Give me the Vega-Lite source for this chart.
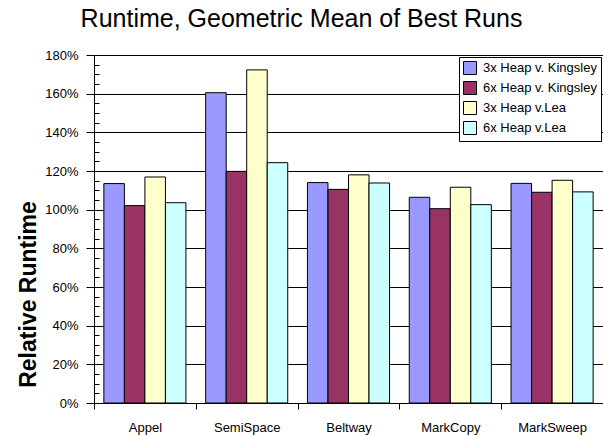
{
  "$schema": "https://vega.github.io/schema/vega-lite/v6.json",
  "autosize": {"type": "none"},
  "padding": {"left": 94, "top": 55, "right": 0, "bottom": 32},
  "width": 509,
  "height": 348,
  "background": "white",
  "config": {
    "font": "Liberation Sans",
    "view": {"stroke": null}
  },
  "title": {
    "text": "Runtime, Geometric Mean of Best Runs",
    "font": "Liberation Sans",
    "fontSize": 25,
    "fontWeight": "normal",
    "color": "black",
    "anchor": "middle",
    "dx": -47,
    "offset": 17
  },
  "data": {
    "values": [
      {"benchmark": "Appel", "series": "3x Heap v. Kingsley", "value": 113.5},
      {"benchmark": "Appel", "series": "6x Heap v. Kingsley", "value": 102.1},
      {"benchmark": "Appel", "series": "3x Heap v.Lea", "value": 116.9},
      {"benchmark": "Appel", "series": "6x Heap v.Lea", "value": 103.6},
      {"benchmark": "SemiSpace", "series": "3x Heap v. Kingsley", "value": 160.5},
      {"benchmark": "SemiSpace", "series": "6x Heap v. Kingsley", "value": 119.8},
      {"benchmark": "SemiSpace", "series": "3x Heap v.Lea", "value": 172.3},
      {"benchmark": "SemiSpace", "series": "6x Heap v.Lea", "value": 124.3},
      {"benchmark": "Beltway", "series": "3x Heap v. Kingsley", "value": 114.0},
      {"benchmark": "Beltway", "series": "6x Heap v. Kingsley", "value": 110.5},
      {"benchmark": "Beltway", "series": "3x Heap v.Lea", "value": 118.0},
      {"benchmark": "Beltway", "series": "6x Heap v.Lea", "value": 113.8},
      {"benchmark": "MarkCopy", "series": "3x Heap v. Kingsley", "value": 106.4},
      {"benchmark": "MarkCopy", "series": "6x Heap v. Kingsley", "value": 100.5},
      {"benchmark": "MarkCopy", "series": "3x Heap v.Lea", "value": 111.6},
      {"benchmark": "MarkCopy", "series": "6x Heap v.Lea", "value": 102.6},
      {"benchmark": "MarkSweep", "series": "3x Heap v. Kingsley", "value": 113.6},
      {"benchmark": "MarkSweep", "series": "6x Heap v. Kingsley", "value": 109.0},
      {"benchmark": "MarkSweep", "series": "3x Heap v.Lea", "value": 115.2},
      {"benchmark": "MarkSweep", "series": "6x Heap v.Lea", "value": 109.2}
    ]
  },
  "mark": {"type": "bar", "stroke": "black", "strokeWidth": 1},
  "encoding": {
    "x": {
      "field": "benchmark",
      "type": "nominal",
      "sort": ["Appel", "SemiSpace", "Beltway", "MarkCopy", "MarkSweep"],
      "scale": {"paddingInner": 0, "paddingOuter": 0},
      "axis": {
        "title": null,
        "labelAngle": 0,
        "labelFontSize": 13,
        "labelColor": "black",
        "labelPadding": 12,
        "tickBand": "extent",
        "tickColor": "black",
        "tickSize": 6,
        "domainColor": "black",
        "grid": false
      }
    },
    "xOffset": {
      "field": "series",
      "type": "nominal",
      "sort": ["3x Heap v. Kingsley", "6x Heap v. Kingsley", "3x Heap v.Lea", "6x Heap v.Lea"],
      "scale": {"paddingInner": 0, "paddingOuter": 0.48}
    },
    "y": {
      "field": "value",
      "type": "quantitative",
      "scale": {"domain": [0, 180], "nice": false},
      "axis": {
        "title": "Relative Runtime",
        "titleFontSize": 23,
        "titleFontWeight": "bold",
        "titleColor": "black",
        "titleX": -66,
        "titleY": 239,
        "titleAngle": -90,
        "titleAlign": "center",
        "titleBaseline": "middle",
        "values": [0,5,10,15,20,25,30,35,40,45,50,55,60,65,70,75,80,85,90,95,100,105,110,115,120,125,130,135,140,145,150,155,160,165,170,175,180],
        "labelExpr": "datum.value % 20 == 0 ? datum.value + '%' : ''",
        "labelFontSize": 13,
        "labelColor": "black",
        "labelPadding": 8,
        "tickSize": {"condition": {"test": "datum.value % 20 == 0", "value": 8}, "value": -5},
        "tickColor": "black",
        "domainColor": "black",
        "gridColor": "black",
        "gridWidth": 1,
        "gridOpacity": {"condition": {"test": "datum.value % 20 == 0", "value": 1}, "value": 0}
      }
    },
    "color": {
      "field": "series",
      "type": "nominal",
      "scale": {
        "domain": ["3x Heap v. Kingsley", "6x Heap v. Kingsley", "3x Heap v.Lea", "6x Heap v.Lea"],
        "range": ["#9999FF", "#993366", "#FFFFCC", "#CCFFFF"]
      },
      "legend": {
        "title": null,
        "orient": "top-right",
        "offset": 2,
        "fillColor": "white",
        "strokeColor": "black",
        "padding": 4,
        "symbolType": "square",
        "symbolSize": 169,
        "symbolStrokeColor": "black",
        "symbolStrokeWidth": 1,
        "symbolOpacity": 1,
        "labelFontSize": 13,
        "labelColor": "black",
        "rowPadding": 2,
        "labelOffset": 6
      }
    }
  }
}
